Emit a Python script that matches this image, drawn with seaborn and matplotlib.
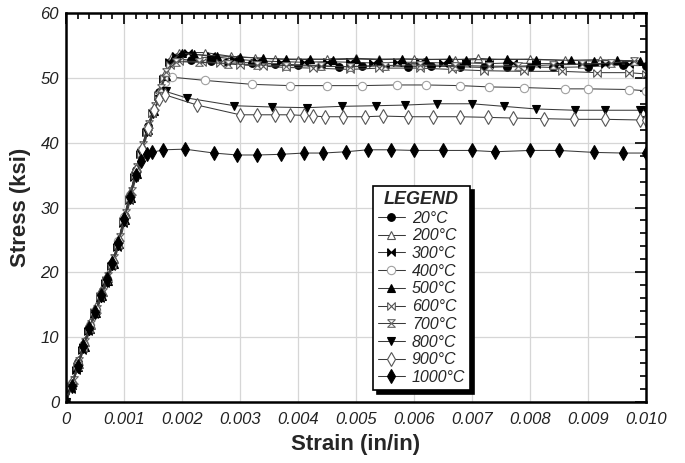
import matplotlib
matplotlib.use("Agg")
import matplotlib.pyplot as plt
from matplotlib.ticker import MultipleLocator
import seaborn as sns

### 0. Data (strain in/in, stress ksi)

temps = ["20°C", "200°C", "300°C", "400°C", "500°C",
         "600°C", "700°C", "800°C", "900°C", "1000°C"]

strain_20 = [0, 0.0001, 0.00021, 0.0003, 0.00041, 0.0005, 0.00061, 0.0007, 0.00081, 0.0009,
             0.00101, 0.0011, 0.00121, 0.0013, 0.00141, 0.0015, 0.00161, 0.0017, 0.0018, 0.0019,
             0.00215, 0.0025, 0.00278, 0.0032, 0.0036, 0.004, 0.0044, 0.0047, 0.0051, 0.0055,
             0.0059, 0.0063, 0.0068, 0.0072, 0.0076, 0.008, 0.0084, 0.009, 0.0096, 0.01]
stress_20 = [0, 2.7, 6.1, 8.8, 11.7, 13.8, 16.5, 18.6, 21.6, 24.5,
             28.7, 31.6, 35.8, 38.8, 42.6, 44.8, 47.8, 50.1, 52.4, 53.0,
             52.7, 52.6, 52.5, 52.3, 52.2, 52.0, 51.9, 51.7, 51.8, 51.9,
             51.7, 51.8, 51.7, 51.6, 51.7, 51.7, 51.6, 51.7, 52.0, 51.9]

strain_200 = [0, 0.00012, 0.00022, 0.00033, 0.00043, 0.00052, 0.00063, 0.00072, 0.00083, 0.00092,
              0.00103, 0.00112, 0.00123, 0.00132, 0.00142, 0.00152, 0.00162, 0.00172, 0.00182,
              0.00195, 0.0024, 0.00285, 0.00325, 0.0036, 0.004, 0.0045, 0.005, 0.0054, 0.006,
              0.0067, 0.0071, 0.0076, 0.008, 0.0086, 0.0092, 0.0098]
stress_200 = [0, 3.1, 5.9, 9.2, 11.9, 14.2, 16.9, 19.1, 22.0, 25.1,
              29.0, 32.2, 36.1, 39.3, 42.6, 45.5, 48.3, 51.0, 53.3,
              53.9, 53.9, 53.3, 53.1, 52.9, 52.8, 52.9, 53.0, 52.9, 52.9,
              52.8, 53.0, 52.8, 52.9, 52.7, 52.8, 52.6]

strain_300 = [0, 0.00008, 0.00018, 0.00028, 0.00038, 0.00048, 0.00058, 0.00068, 0.00078, 0.00088,
              0.00098, 0.00108, 0.00118, 0.00128, 0.00138, 0.00148, 0.00158, 0.00168, 0.00178,
              0.0019, 0.0021, 0.0025, 0.0029, 0.0033, 0.0037, 0.0041, 0.0045, 0.0049, 0.0053,
              0.0057, 0.0061, 0.0065, 0.0069, 0.0073, 0.0077, 0.0081, 0.0085, 0.0089, 0.0093, 0.0097]
stress_300 = [0, 2.0, 5.0, 8.0, 10.9, 13.5, 16.0, 18.4, 20.9, 23.9,
              27.6, 31.2, 34.7, 38.3, 41.6, 44.5, 47.2, 49.8, 52.4,
              53.4, 53.8, 53.3, 52.9, 52.6, 52.5, 52.4, 52.5, 52.4, 52.3,
              52.4, 52.4, 52.3, 52.3, 52.2, 52.3, 52.2, 52.2, 52.1, 52.2, 52.1]

strain_400 = [0, 0.0001, 0.0002, 0.00031, 0.00041, 0.00051, 0.0006, 0.0007, 0.00079, 0.0009,
              0.001, 0.0011, 0.0012, 0.0013, 0.0014, 0.0015, 0.0016, 0.0017,
              0.00183, 0.0024, 0.0032, 0.00386, 0.0045, 0.0051, 0.0057, 0.0062, 0.0068,
              0.0073, 0.0079, 0.0086, 0.009, 0.0097, 0.01]
stress_400 = [0, 2.9, 5.8, 9.0, 11.8, 14.2, 16.4, 18.9, 21.3, 24.8,
              28.5, 32.0, 35.4, 38.9, 42.1, 44.9, 47.3, 49.4,
              50.1, 49.6, 49.0, 48.8, 48.8, 48.8, 48.9, 48.9, 48.8,
              48.6, 48.5, 48.3, 48.3, 48.2, 48.0]

strain_500 = [0, 0.00011, 0.00021, 0.00032, 0.00042, 0.00052, 0.00062, 0.00072, 0.00082, 0.00092,
              0.00102, 0.00112, 0.00122, 0.00132, 0.00142, 0.00152, 0.00162, 0.00172, 0.00182,
              0.002, 0.0022, 0.0026, 0.003, 0.0034, 0.0038, 0.0042, 0.0046, 0.005, 0.0054,
              0.0058, 0.0062, 0.0066, 0.0069, 0.0073, 0.0076, 0.0081, 0.0087, 0.0091, 0.0095, 0.0099]
stress_500 = [0, 2.6, 5.4, 8.5, 11.2, 13.8, 16.3, 18.7, 21.3, 24.4,
              28.0, 31.5, 35.1, 38.6, 41.9, 44.9, 47.6, 50.3, 52.8,
              53.8, 53.6, 53.4, 53.2, 53.0, 52.9, 52.9, 52.8, 52.9, 52.8,
              52.9, 52.8, 52.9, 52.8, 52.8, 52.9, 52.8, 52.7, 52.6, 52.7, 52.6]

strain_600 = [0, 0.00009, 0.00019, 0.00029, 0.00039, 0.00049, 0.00059, 0.00069, 0.00079, 0.00089,
              0.00099, 0.00109, 0.00119, 0.00129, 0.00139, 0.00149, 0.00159, 0.00169, 0.00179,
              0.00195, 0.00235, 0.00265, 0.003, 0.0034, 0.0038, 0.00426, 0.0049, 0.0054, 0.0061,
              0.00665, 0.0072, 0.0079, 0.00855, 0.00915, 0.0097, 0.01]
stress_600 = [0, 2.4, 5.5, 8.4, 11.3, 13.9, 16.3, 18.8, 21.2, 24.2,
              27.9, 31.3, 35.0, 38.3, 41.7, 44.6, 47.3, 49.9, 52.0,
              52.6, 52.5, 52.3, 52.0, 51.8, 51.6, 51.5, 51.3, 51.5, 51.5,
              51.3, 51.1, 51.0, 51.0, 50.8, 50.8, 50.6]

strain_700 = [0, 0.00013, 0.00023, 0.00033, 0.00043, 0.00053, 0.00063, 0.00073, 0.00083, 0.00093,
              0.00103, 0.00113, 0.00123, 0.00133, 0.00143, 0.00153, 0.00163, 0.00173,
              0.0019, 0.0023, 0.0028, 0.0033, 0.0038, 0.0044, 0.0049, 0.0055, 0.0061, 0.0067,
              0.0073, 0.0078, 0.0084, 0.0089, 0.0094, 0.0098]
stress_700 = [0, 3.4, 6.3, 9.3, 12.0, 14.4, 17.0, 19.4, 22.2, 25.5,
              29.1, 32.6, 36.2, 39.6, 42.9, 45.7, 48.4, 50.9,
              52.5, 52.4, 52.2, 52.0, 51.9, 51.8, 51.7, 51.9, 52.0, 51.9,
              51.8, 51.8, 52.0, 52.1, 52.3, 52.6]

strain_800 = [0, 0.0001, 0.0002, 0.0003, 0.0004, 0.0005, 0.0006, 0.0007, 0.0008, 0.0009,
              0.001, 0.0011, 0.0012, 0.0013, 0.0014, 0.0015, 0.0016, 0.00172,
              0.00208, 0.0029, 0.00355, 0.00415, 0.00475, 0.00535, 0.00585, 0.0064, 0.007,
              0.00755, 0.0081, 0.00877, 0.0093, 0.0099, 0.01]
stress_800 = [0, 2.2, 5.2, 8.3, 11.0, 13.6, 16.0, 18.4, 21.0, 24.1,
              27.8, 31.3, 34.8, 38.4, 41.6, 44.4, 46.8, 47.9,
              46.9, 45.7, 45.5, 45.4, 45.6, 45.7, 45.8, 46.0, 46.0,
              45.6, 45.2, 45.0, 45.0, 45.0, 45.0]

strain_900 = [0, 0.00011, 0.00021, 0.00031, 0.00041, 0.00051, 0.00061, 0.00071, 0.00081, 0.00091,
              0.00101, 0.00111, 0.00121, 0.00131, 0.00141, 0.00151, 0.00161, 0.0017,
              0.00226, 0.003, 0.0033, 0.0036, 0.00386, 0.0041, 0.00426, 0.00447, 0.00477, 0.00515,
              0.00547, 0.0059, 0.00632, 0.0068, 0.00728, 0.0077, 0.00824, 0.00876, 0.0093, 0.0099, 0.01]
stress_900 = [0, 3.0, 6.0, 9.0, 11.8, 14.3, 16.8, 19.1, 21.7, 24.9,
              28.5, 32.0, 35.6, 39.0, 42.2, 45.0, 46.8, 47.4,
              45.8, 44.3, 44.3, 44.3, 44.3, 44.2, 44.1, 44.0, 44.0, 44.0,
              44.1, 44.0, 44.0, 44.0, 43.9, 43.8, 43.7, 43.6, 43.6, 43.5, 43.5]

strain_1000 = [0, 0.0001, 0.0002, 0.0003, 0.0004, 0.0005, 0.0006, 0.0007, 0.0008, 0.0009,
               0.001, 0.0011, 0.0012, 0.0013, 0.0014, 0.00148,
               0.00168, 0.00205, 0.00255, 0.00295, 0.0033, 0.0037, 0.0041, 0.00443, 0.00483, 0.0052,
               0.0056, 0.006, 0.0065, 0.007, 0.0074, 0.008, 0.0085, 0.0091, 0.0096, 0.01]
stress_1000 = [0, 2.5, 5.6, 8.7, 11.4, 13.9, 16.5, 18.9, 21.5, 24.6,
               28.2, 31.6, 35.0, 37.2, 38.2, 38.5,
               38.9, 39.0, 38.4, 38.1, 38.1, 38.2, 38.4, 38.4, 38.6, 38.9,
               38.9, 38.8, 38.8, 38.8, 38.6, 38.8, 38.8, 38.5, 38.4, 38.4]

strains = [strain_20, strain_200, strain_300, strain_400, strain_500,
           strain_600, strain_700, strain_800, strain_900, strain_1000]
stresses = [stress_20, stress_200, stress_300, stress_400, stress_500,
            stress_600, stress_700, stress_800, stress_900, stress_1000]

xtick_vals = [0, 0.001, 0.002, 0.003, 0.004, 0.005, 0.006, 0.007, 0.008, 0.009, 0.010]
xtick_text = ["0", "0.001", "0.002", "0.003", "0.004", "0.005",
              "0.006", "0.007", "0.008", "0.009", "0.010"]

### 1. Marker styles (custom bow-tie / hourglass shapes)

bowtie = [(-1, 1), (1, -1), (1, 1), (-1, -1), (-1, 1)]
hourglass = [(-1, 1), (1, 1), (-1, -1), (1, -1), (-1, 1)]

# (marker, size, face, edge)
styles = [
    ("o", 5.5, "black", "black"),
    ("^", 6, "white", "#555555"),
    (bowtie, 5.5, "black", "black"),
    ("o", 6, "white", "#a0a0a0"),
    ("^", 6, "black", "black"),
    (bowtie, 5.5, "white", "#555555"),
    (hourglass, 5.5, "white", "#666666"),
    ("v", 6, "black", "black"),
    ("d", 7, "white", "#555555"),
    ("d", 7, "black", "black"),
]

### 2. Plot

sns.set_theme(style="white")
plt.rcParams['font.family'] = ['Liberation Sans', 'DejaVu Sans']

fig = plt.figure(figsize=(6.85, 4.63), dpi=100)
ax = fig.add_axes([66 / 685, 61 / 463, 580 / 685, 389 / 463])

for i, lab in enumerate(temps):
    mk, ms, fc, ec = styles[i]
    sns.lineplot(x=strains[i], y=stresses[i], ax=ax, estimator=None, sort=False,
                 color="#3a3a3a", linewidth=0.75, marker=mk, markersize=ms,
                 markerfacecolor=fc, markeredgecolor=ec, markeredgewidth=0.8,
                 label=lab)

ax.set_xlim(0, 0.010)
ax.set_ylim(0, 60)
ax.set_xticks(xtick_vals, xtick_text, fontstyle="italic", fontsize=12, color="#222222")
ax.xaxis.set_minor_locator(MultipleLocator(0.0002))
ax.yaxis.set_major_locator(MultipleLocator(10))
ax.yaxis.set_minor_locator(MultipleLocator(2))
for t in ax.get_yticklabels():
    t.set_fontstyle("italic")
    t.set_fontsize(12)
    t.set_color("#222222")

ax.tick_params(which="both", direction="in", top=True, right=True,
               width=1.2, color="black")
ax.tick_params(which="major", length=8)
ax.tick_params(which="minor", length=4)
ax.tick_params(axis="x", which="major", pad=7)
ax.tick_params(axis="y", which="major", pad=5)

ax.grid(True, which="major", color="#d6d6d6", linewidth=0.9)
ax.set_axisbelow(True)
for sp in ax.spines.values():
    sp.set_linewidth(1.8)
    sp.set_color("black")

ax.set_xlabel("Strain (in/in)", fontsize=16, fontweight="bold", labelpad=5)
ax.set_ylabel("Stress (ksi)", fontsize=16, fontweight="bold", labelpad=7)

leg = ax.legend(loc="upper left", bbox_to_anchor=(0.529, 0.555), title="LEGEND",
                frameon=True, fancybox=False, edgecolor="black", framealpha=1,
                shadow={"ox": 3, "oy": -3, "shade": 1, "alpha": 1},
                prop={"style": "italic", "size": 11.5},
                title_fontproperties={"weight": "bold", "style": "italic", "size": 13},
                handlelength=1.7, handletextpad=0.45, labelspacing=0.17,
                borderpad=0.3, borderaxespad=0)
leg.get_frame().set_linewidth(1.2)

fig.savefig("out.png", dpi=100)
